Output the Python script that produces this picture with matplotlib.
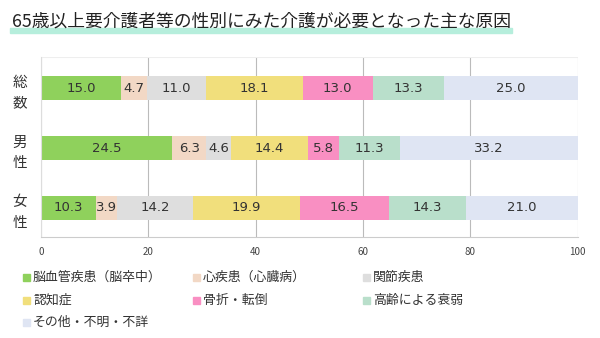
import numpy as np
import matplotlib.pyplot as plt
from matplotlib.patches import Rectangle

plt.rcParams['font.family'] = ['Noto Sans CJK JP', 'DejaVu Sans']

groups = ['総\n数', '男\n性', '女\n性']
causes = ['脳血管疾患（脳卒中）', '心疾患（心臓病）', '関節疾患',
          '認知症', '骨折・転倒', '高齢による衰弱', 'その他・不明・不詳']
total = [15.0, 4.7, 11.0, 18.1, 13.0, 13.3, 25.0]
male = [24.5, 6.3, 4.6, 14.4, 5.8, 11.3, 33.2]
female = [10.3, 3.9, 14.2, 19.9, 16.5, 14.3, 21.0]
colors = ['#8fd15c', '#f2d8c5', '#dedede', '#f1df7c',
          '#f98fc2', '#b9dfcb', '#dfe5f3']

values = np.array([total, male, female])

fig = plt.figure(figsize=(6, 3.38), dpi=100)
ax = fig.add_axes([0.068, 0.299, 0.895, 0.532])

y = np.arange(len(groups))
left = np.zeros(len(groups))
for k in range(len(causes)):
    ax.barh(y, values[:, k], left=left, height=0.4, color=colors[k], zorder=2)
    for i in range(len(groups)):
        ax.text(left[i] + values[i, k] / 2, y[i], f'{values[i, k]:.1f}',
                ha='center', va='center', fontsize=9.5, family='DejaVu Sans',
                color='#333333', zorder=3)
    left += values[:, k]

ax.set_xlim(0, 100)
ax.set_ylim(2.483, -0.517)
ax.set_xticks([0, 20, 40, 60, 80, 100])
ax.set_yticks(y)
ax.set_yticklabels(groups, fontsize=10.5, linespacing=1.6)
ax.tick_params(axis='x', length=0, labelsize=7, pad=7, colors='#444444')
ax.tick_params(axis='y', length=0, pad=10, colors='#333333')
ax.grid(axis='x', color='#bbbbbb', linewidth=0.8, zorder=0)
for s in ['top', 'right']:
    ax.spines[s].set_visible(False)
ax.spines['left'].set_color('#dddddd')
ax.spines['bottom'].set_color('#cccccc')
ax.axhline(-0.517, color='#eeeeee', linewidth=0.8)

# title with a mint underline band
fig.patches.append(Rectangle((10 / 600, 1 - 33 / 338), 502 / 600, 5 / 338,
                             transform=fig.transFigure, color='#b6eedc', zorder=0))
fig.text(12 / 600, 1 - 22 / 338, '65歳以上要介護者等の性別にみた介護が必要となった主な原因',
         fontsize=12.8, va='center', ha='left', color='#222222', zorder=2)

# legend laid out in three columns
col_x = [23, 193, 363]
row_y = [277, 300, 322]
for i, (name, c) in enumerate(zip(causes, colors)):
    cx = col_x[i % 3]
    cy = row_y[i // 3]
    fig.patches.append(Rectangle((cx / 600, 1 - (cy + 3.5) / 338), 7 / 600, 7 / 338,
                                 transform=fig.transFigure, color=c))
    fig.text((cx + 10) / 600, 1 - cy / 338, name, fontsize=9.3,
             va='center', ha='left', color='#333333')

fig.savefig('out.png', dpi=100)
